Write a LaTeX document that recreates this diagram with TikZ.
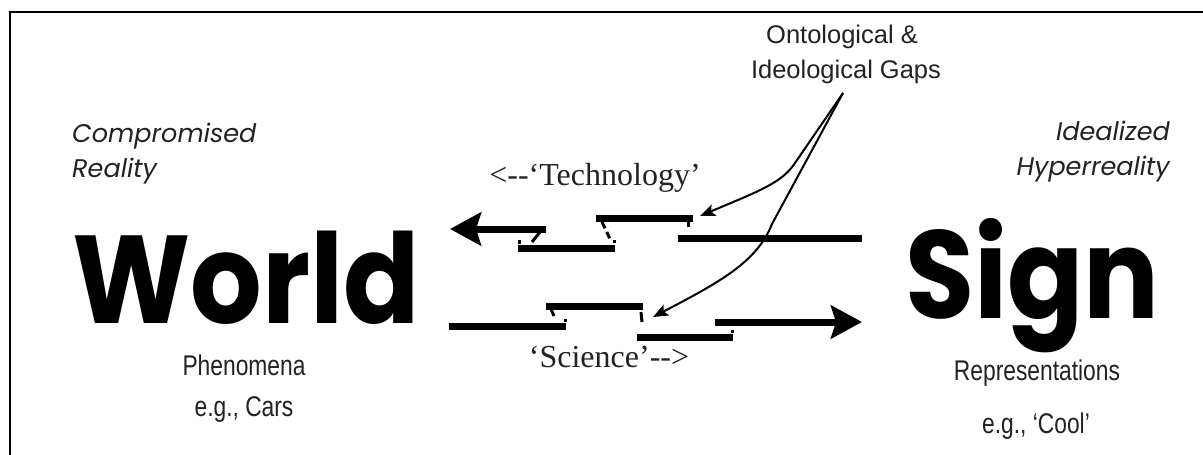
\documentclass[tikz,border=0pt]{standalone}
\usepackage{fontspec}
\setmainfont{Liberation Serif}
\newfontfamily\geo{Poppins}
\newfontfamily\geowide{Poppins}[FakeStretch=0.9]
\newfontfamily\cond{Liberation Sans}[FakeStretch=0.8]
\newfontfamily\lab{Liberation Sans}
\usetikzlibrary{arrows.meta}
\definecolor{ink}{HTML}{222222}
\tikzset{
  bar/.style={line width=7pt, line cap=butt, black},
  notch/.style={line width=3pt, line cap=butt, black},
  bigarrow/.style={-{Stealth[length=31pt,width=33pt,inset=5pt]}},
  gaparrow/.style={line width=2pt, -{Stealth[length=15pt,width=12pt,inset=3pt]}},
  bigword/.style={inner sep=0pt, text depth=0pt, font=\geowide\bfseries\fontsize{125}{125}\selectfont},
  italab/.style={inner sep=0pt, text=ink, font=\geo\itshape\fontsize{25.5}{25.5}\selectfont},
  condlab/.style={inner sep=0pt, text=ink, font=\cond\fontsize{28.5}{28.5}\selectfont},
  gaplab/.style={inner sep=0pt, text=ink, font=\lab\fontsize{25.5}{25.5}\selectfont},
  serlab/.style={inner sep=0pt, text=ink, font=\fontsize{32}{32}\selectfont},
}
\begin{document}
\begin{tikzpicture}[x=1pt,y=-1pt]
\useasboundingbox (0,0) rectangle (1203,455);
\clip (0,0) rectangle (1203,455);
\fill[white] (0,0) rectangle (1203,455);
% frame
\draw[line width=2.5pt] (10,480) -- (10,12) -- (1230,12);

% big words
\node[bigword, anchor=base west] (world) at (72,323) {World};
\node[bigword, anchor=base west] (sign) at (905,318) {Sign};

% italic labels
\node[italab, anchor=base west] (comp) at (72,142) {Compromised};
\node[italab, anchor=base west] (real) at (72,177) {Reality};
\node[italab, anchor=base east] (ideal) at (1170,140) {Idealized};
\node[italab, anchor=base east] (hyper) at (1170,175) {Hyperreality};

% lower labels
\node[condlab, anchor=base] (phen) at (244,375) {Phenomena};
\node[condlab, anchor=base] (cars) at (244,416) {e.g., Cars};
\node[condlab, anchor=base] (repr) at (1037,380) {Representations};
\node[condlab, anchor=base] (cool) at (1036,433) {e.g., ‘Cool’};

% gaps label
\node[gaplab, anchor=base] (gaps1) at (842,43) {Ontological \&};
\node[gaplab, anchor=base] (gaps2) at (846,78) {Ideological Gaps};
\coordinate (gapsfoot) at (843,93);

% serif labels
\node[serlab, anchor=base] (tech) at (595,185) {<-{}-‘Technology’};
\node[serlab, anchor=base] (sci) at (609,367) {‘Science’-{}->};

% upper chain (technology, right to left)
\coordinate (u1a) at (546,229); \coordinate (u1b) at (450,229);
\coordinate (u2a) at (518,248); \coordinate (u2b) at (615,248);
\coordinate (u3a) at (596,218); \coordinate (u3b) at (693,218);
\coordinate (u4a) at (678,238); \coordinate (u4b) at (862,238);
\draw[bar, bigarrow] (u1a) -- (u1b);
\draw[bar] (u2a) -- (u2b);
\draw[bar] (u3a) -- (u3b);
\draw[bar] (u4a) -- (u4b);
\draw[notch] (540,232) -- (532,242);
\draw[notch] (519,244) -- (519,240);
\draw[notch, dash pattern=on 7pt off 4pt] (602,222) -- (611,241);
\draw[notch] (614,243) -- (614,240);
\draw[notch] (688,221) -- (688,227);

% lower chain (science, left to right)
\coordinate (l1a) at (449,326); \coordinate (l1b) at (566,326);
\coordinate (l2a) at (546,306); \coordinate (l2b) at (643,306);
\coordinate (l3a) at (637,337); \coordinate (l3b) at (733,337);
\coordinate (l4a) at (715,322); \coordinate (l4b) at (862,322);
\draw[bar] (l1a) -- (l1b);
\draw[bar] (l2a) -- (l2b);
\draw[bar] (l3a) -- (l3b);
\draw[bar, bigarrow] (l4a) -- (l4b);
\draw[notch] (551,309) -- (554,316);
\draw[notch] (565,322) -- (565,319);
\draw[notch] (641,312) -- (642,322);
\draw[notch] (732,333) -- (732,330);

% gap arrows
\coordinate (t1) at (700,216);
\coordinate (t2) at (653,317);
\draw[gaparrow] (gapsfoot) -- (795,163) .. controls (785,178) and (770,186) .. (745,197) -- (t1);
\draw[gaparrow] (gapsfoot) -- (772,224) .. controls (757,262) and (720,282) .. (t2);
\end{tikzpicture}
\end{document}
